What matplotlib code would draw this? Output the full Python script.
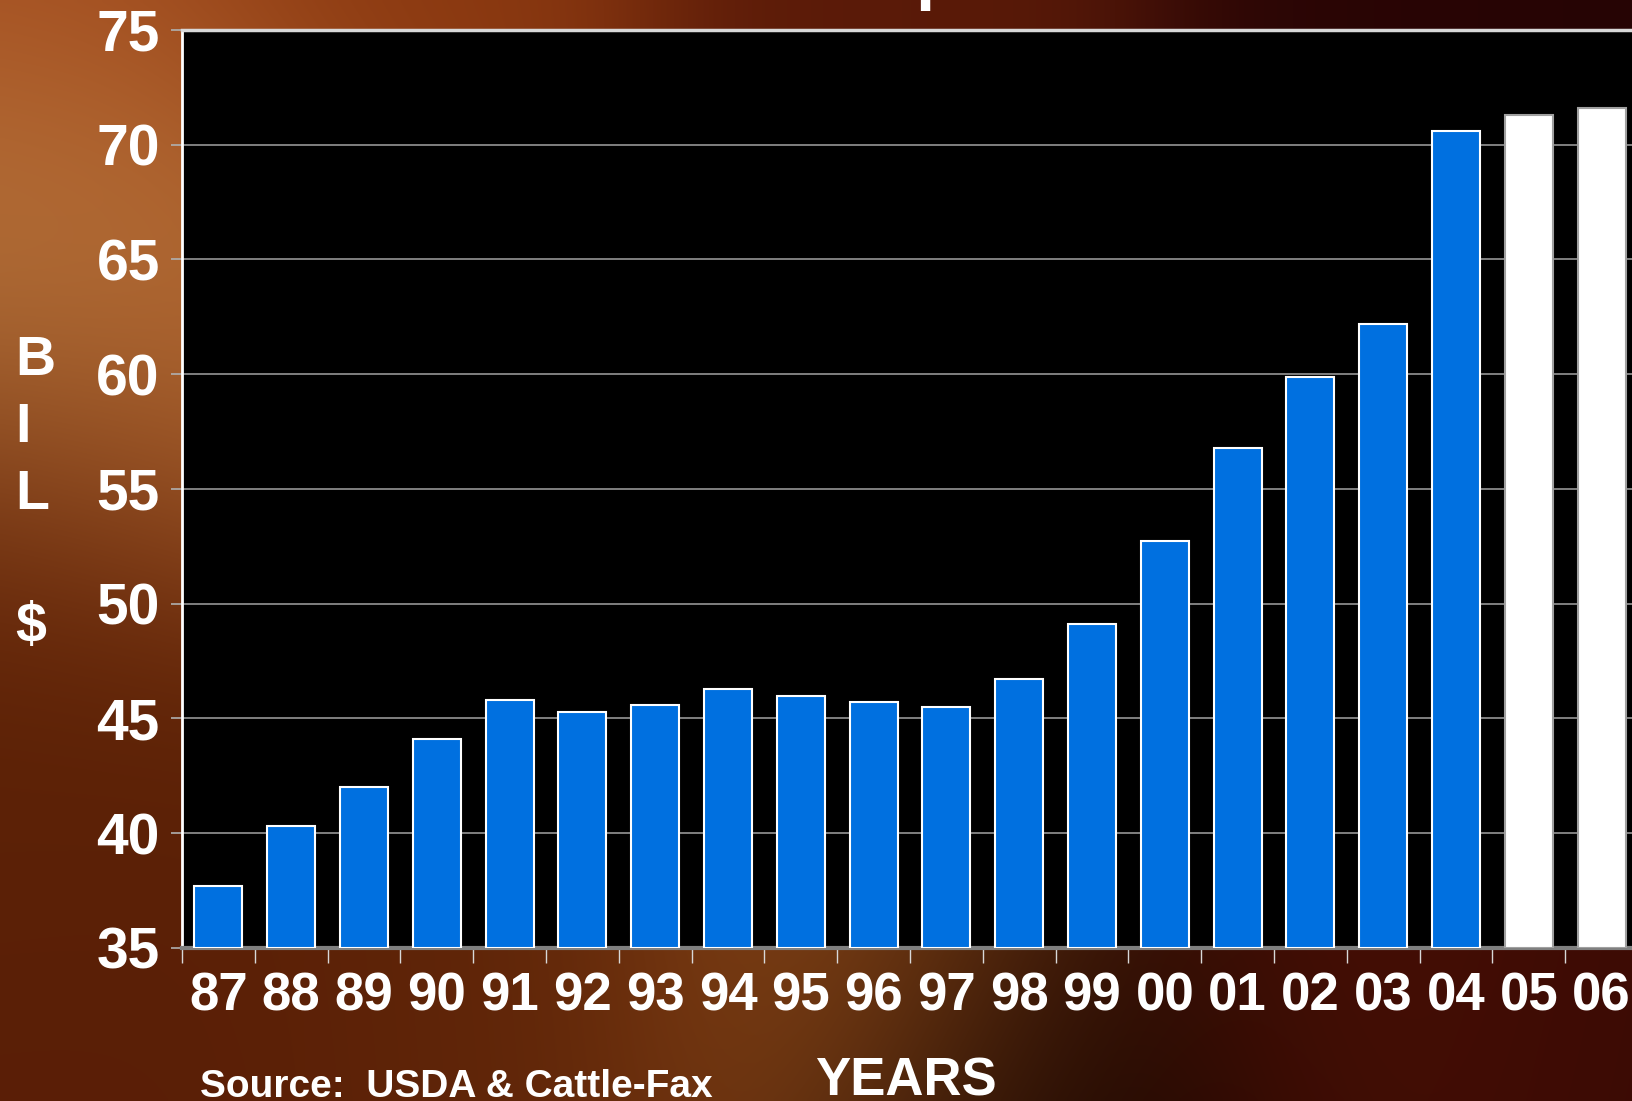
import matplotlib
matplotlib.use('Agg')
import matplotlib.pyplot as plt
import numpy as np

# data (billion $)
years = ['87', '88', '89', '90', '91', '92', '93', '94', '95', '96',
         '97', '98', '99', '00', '01', '02', '03', '04', '05', '06']
spending = [37.7, 40.3, 42.0, 44.1, 45.8, 45.3, 45.6, 46.3, 46.0, 45.7,
            45.5, 46.7, 49.1, 52.75, 56.8, 59.9, 62.2, 70.6, 71.3, 71.6]
forecast = [False] * 18 + [True, True]
yticks = [35, 40, 45, 50, 55, 60, 65, 70, 75]

W, H = 1632, 1101
plt.rcParams['font.family'] = ['Liberation Sans', 'DejaVu Sans']
plt.rcParams['font.weight'] = 'bold'

fig = plt.figure(figsize=(W / 100, H / 100), dpi=100)

# ---- background: smooth blend of a few sampled colours ----
anchors = [
    (60, 40, '#a0461a'), (400, 10, '#8a3810'), (900, 10, '#5a1a08'),
    (1400, 10, '#2a0505'), (1632, 10, '#250404'), (40, 250, '#c28a4c'),
    (150, 340, '#b86830'), (40, 500, '#5e2006'), (40, 800, '#5c2206'),
    (90, 1050, '#5a1e06'), (500, 1000, '#5e2408'), (850, 975, '#8a4818'),
    (1050, 1085, '#100200'), (1350, 1000, '#4a1005'), (1600, 1050, '#3a0a04'),
]
yy, xx = np.mgrid[0:H:4, 0:W:4]
num = np.zeros(xx.shape + (3,))
den = np.zeros(xx.shape)
for ax_, ay_, c in anchors:
    w = np.exp(-((xx - ax_) ** 2 + (yy - ay_) ** 2) / (2 * 160.0 ** 2)) + 1e-9
    num += w[..., None] * np.array(matplotlib.colors.to_rgb(c))
    den += w
bg = num / den[..., None]

bgax = fig.add_axes([0, 0, 1, 1])
bgax.imshow(bg, aspect='auto', extent=[0, 1, 0, 1], interpolation='bilinear')
bgax.set_axis_off()

# ---- main axes ----
left, right, top, bottom = 182, 1638, 30, 948
ax = fig.add_axes([left / W, 1 - bottom / H, (right - left) / W, (bottom - top) / H])
ax.set_facecolor('black')

x = np.arange(len(years))
colors = ['white' if f else '#0070e0' for f in forecast]
edges = ['#a0a0a0' if f else 'white' for f in forecast]
ax.bar(x, np.array(spending) - 35, bottom=35, width=0.66, color=colors,
       edgecolor=edges, linewidth=1.5, zorder=3)

ax.set_ylim(35, 75)
ax.set_xlim(-0.5, len(years) - 0.5)
ax.set_yticks(yticks)
ax.yaxis.grid(True, color='#8a8a8a', linewidth=1.3, zorder=1)
ax.set_axisbelow(True)

ax.set_xticks(x)
ax.set_xticklabels(years)
ax.set_xticks(np.arange(len(years) + 1) - 0.5, minor=True)
ax.tick_params(axis='x', which='major', length=0, pad=17, labelsize=38,
               labelcolor='white')
ax.tick_params(axis='x', which='minor', length=11, width=1, color='#d8d8d8',
               direction='out')
ax.tick_params(axis='y', length=8, width=1.2, color='#b0b0b0', pad=8,
               labelsize=41, labelcolor='white')
for lbl in ax.get_xticklabels() + ax.get_yticklabels():
    lbl.set_fontweight('bold')

ax.spines['left'].set_color('white')
ax.spines['left'].set_linewidth(2)
ax.spines['top'].set_color('#d8d8d8')
ax.spines['top'].set_linewidth(2.5)
ax.spines['bottom'].set_color('#808080')
ax.spines['bottom'].set_linewidth(3)
ax.spines['right'].set_visible(False)

# ---- texts ----
for letter, base in [('B', 375), ('I', 442), ('L', 509), ('$', 642)]:
    fig.text(15 / W, 1 - base / H, letter, color='white', fontsize=40,
             fontweight='bold', ha='left', va='baseline')

fig.text(200 / W, 1 - 1097 / H, 'Source:  USDA & Cattle-Fax', color='white',
         fontsize=28, fontweight='bold', ha='left', va='baseline')
fig.text(815 / W, 1 - 1095 / H, 'YEARS', color='white', fontsize=38,
         fontweight='bold', ha='left', va='baseline')
# bottom of the cut-off title
fig.text(915 / W, 1 + 3 / H, 'p', color='white', fontsize=50,
         fontweight='bold', ha='left', va='baseline')

fig.savefig('out.png', dpi=100)
